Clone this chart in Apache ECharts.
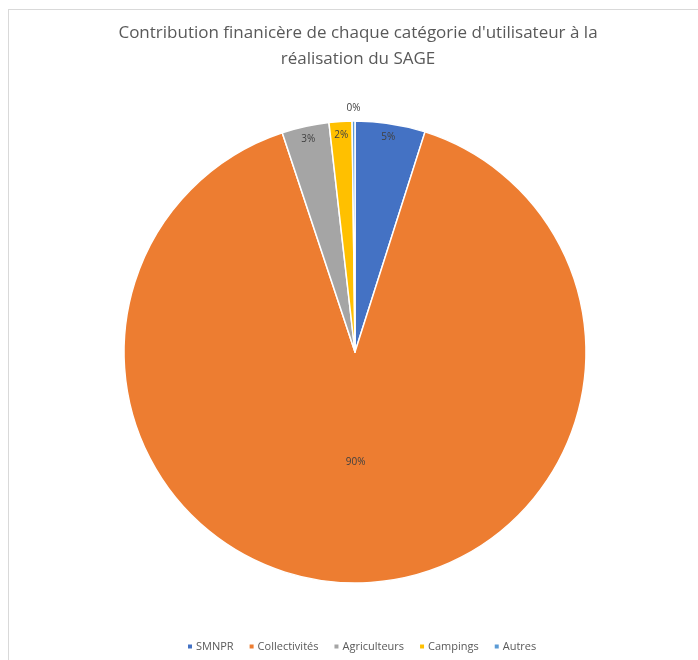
<!DOCTYPE html>
<html>
<head>
<meta charset="utf-8">
<script src="https://cdn.jsdelivr.net/npm/echarts@6/dist/echarts.min.js"></script>
<style>
html,body{margin:0;padding:0;background:#fff;overflow:hidden;}
#frame{position:absolute;left:8px;top:9px;width:720px;height:680px;border:1px solid #d9d9d9;}
#main{position:absolute;left:0;top:0;width:698px;height:660px;}
</style>
</head>
<body>
<div id="frame"></div>
<div id="main"></div>
<script>
// données (en %)
var categories = ['SMNPR', 'Collectivités', 'Agriculteurs', 'Campings', 'Autres'];
var values = [4.9, 90.0, 3.3, 1.6, 0.2];
var colors = ['#4472C4', '#ED7D31', '#A5A5A5', '#FFC000', '#5B9BD5'];

var chart = echarts.init(document.getElementById('main'));

function pctLabel(p){
	return Math.round(p.percent) + '%';
}

var mainData = [];
var innerData = [];  // étiquette au centre de la grande part
var ringData = [];   // étiquettes près du bord
var outerData = [];  // étiquette de la petite part, à l'extérieur
var legendData = [];
for (var i = 0; i < categories.length; i++) {
	mainData.push({
		name: categories[i],
		value: values[i],
		itemStyle: {color: colors[i]}
	});
	innerData.push({name: categories[i], value: values[i], label: {show: i == 1}});
	ringData.push({name: categories[i], value: values[i], label: {show: i != 1 && i != 4}});
	outerData.push({name: categories[i], value: values[i], label: {show: i == 4}});
	legendData.push({name: categories[i], itemStyle: {color: colors[i]}});
}

var labelStyle = {
	position: 'inside',
	formatter: pctLabel,
	color: '#404040',
	fontSize: 10,
	fontFamily: 'Open Sans'
};

function labelRing(name, radius, data){
	return {
		name: name,
		type: 'pie',
		center: [355, 352],
		radius: radius,
		startAngle: 90,
		clockwise: true,
		silent: true,
		avoidLabelOverlap: false,
		itemStyle: {color: 'rgba(0,0,0,0)', borderWidth: 0},
		label: labelStyle,
		labelLine: {show: false},
		data: data
	};
}

var option = {
	backgroundColor: 'transparent',
	animation: false,
	title: {
		text: "Contribution finanicère de chaque catégorie d'utilisateur à la\nréalisation du SAGE",
		left: 353,
		textAlign: 'center',
		top: 15,
		textStyle: {
			fontFamily: 'Open Sans',
			fontSize: 17,
			fontWeight: 'normal',
			color: '#595959',
			lineHeight: 26
		}
	},
	legend: {
		bottom: 3,
		left: 181,
		itemWidth: 6,
		itemHeight: 6,
		itemGap: 14,
		icon: 'rect',
		textStyle: {
			fontFamily: 'Open Sans',
			fontSize: 11,
			color: '#595959',
			padding: [0, 0, 0, -2]
		},
		data: legendData
	},
	series: [
		{
			name: 'main',
			type: 'pie',
			center: [355, 352],
			radius: [0, 231],
			startAngle: 90,
			clockwise: true,
			avoidLabelOverlap: false,
			itemStyle: {borderColor: '#fff', borderWidth: 1.5},
			label: {show: false},
			labelLine: {show: false},
			emphasis: {disabled: true},
			data: mainData
		},
		labelRing('inner', [0, 214], innerData),
		labelRing('ring', [198, 231], ringData),
		labelRing('outer', [231, 250], outerData)
	]
};
chart.setOption(option);
</script>
</body>
</html>
